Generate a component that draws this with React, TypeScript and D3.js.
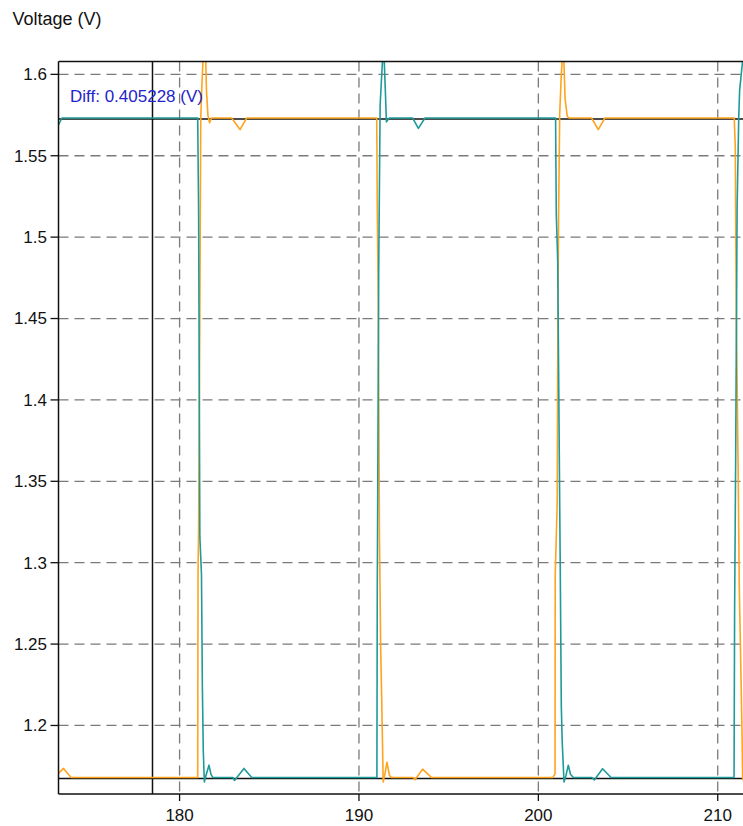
import React from "react";
import * as d3 from "d3";

const xTicks = [180, 190, 200, 210];
const yTicks = [1.2, 1.25, 1.3, 1.35, 1.4, 1.45, 1.5, 1.55, 1.6];
const yTickLabels = ["1.2", "1.25", "1.3", "1.35", "1.4", "1.45", "1.5", "1.55", "1.6"];
const cursorLevels = [1.5726, 1.167372];
const cursorTime = [178.49];
const diffLabel = "Diff: 0.405228 (V)";
const yTitle = "Voltage (V)";

const orangeTrace: [number, number][] = [
  [173.22, 1.1703], [173.53, 1.1736], [173.95, 1.168],
  [181.01, 1.168], [181.03, 1.2956], [181.06, 1.32], [181.13, 1.455], [181.18, 1.5732],
  [181.25, 1.595], [181.33, 1.615], [181.42, 1.625], [181.5, 1.59], [181.58, 1.5748],
  [181.67, 1.5703], [181.78, 1.5732],
  [182.9, 1.5732], [183.37, 1.5661], [183.74, 1.5732],
  [190.99, 1.5732], [191.02, 1.519], [191.08, 1.459], [191.14, 1.319], [191.21, 1.248],
  [191.27, 1.215], [191.35, 1.1653], [191.45, 1.1703], [191.56, 1.1774], [191.7, 1.1693],
  [191.82, 1.168],
  [193.04, 1.168], [193.12, 1.1666], [193.55, 1.1732], [194.05, 1.168],
  [200.8, 1.168], [200.93, 1.1703], [200.94, 1.292], [201.05, 1.336], [201.09, 1.45],
  [201.13, 1.515], [201.19, 1.5753], [201.28, 1.6], [201.39, 1.62], [201.49, 1.585],
  [201.61, 1.5743], [201.71, 1.5732],
  [202.97, 1.5732], [203.34, 1.5661], [203.71, 1.5732],
  [210.92, 1.5732], [210.98, 1.5547], [211.01, 1.4933], [211.05, 1.4387], [211.14, 1.355],
  [211.2, 1.285], [211.28, 1.24], [211.35, 1.199], [211.39, 1.167], [211.5, 1.1658],
];

const tealTrace: [number, number][] = [
  [173.22, 1.5683], [173.44, 1.5732],
  [181.01, 1.5732], [181.06, 1.517], [181.1, 1.403], [181.13, 1.316], [181.22, 1.293],
  [181.27, 1.224], [181.32, 1.185], [181.38, 1.1653], [181.47, 1.1693], [181.64, 1.1756],
  [181.75, 1.17], [181.86, 1.168],
  [182.98, 1.168], [183.06, 1.1662], [183.59, 1.1736], [184.02, 1.168],
  [191.0, 1.168], [191.02, 1.281], [191.1, 1.479], [191.18, 1.581], [191.27, 1.6],
  [191.37, 1.62], [191.47, 1.59], [191.53, 1.5708], [191.69, 1.5732],
  [192.99, 1.5732], [193.31, 1.5668], [193.68, 1.5732],
  [200.96, 1.5732], [201.0, 1.514], [201.08, 1.485], [201.18, 1.35], [201.22, 1.298],
  [201.28, 1.212], [201.33, 1.19], [201.43, 1.1653], [201.54, 1.1693], [201.67, 1.1756],
  [201.79, 1.17], [201.95, 1.168],
  [202.99, 1.168], [203.12, 1.1665], [203.58, 1.1734], [204.05, 1.168],
  [210.91, 1.168], [210.94, 1.269], [211.0, 1.365], [211.08, 1.518], [211.17, 1.5732],
  [211.22, 1.59], [211.31, 1.6], [211.42, 1.612],
];

const W = 743;
const H = 826;
const left = 58.5;
const right = 745;
const top = 61.5;
const bottom = 794;

const FONT = "'Liberation Sans', Arial, sans-serif";

export default function App() {
  const x = d3.scaleLinear().domain([173.25, 211.52]).range([left, right]);
  const y = d3.scaleLinear().domain([1.1579, 1.6079]).range([bottom, top]);
  const line = d3
    .line<[number, number]>()
    .x((d) => x(d[0]))
    .y((d) => y(d[1]));

  return (
    <svg
      width={W}
      height={H}
      style={{ position: "absolute", left: 0, top: 0, background: "#fff" }}
      fontFamily={FONT}
    >
      <defs>
        <clipPath id="plot">
          <rect x={left} y={top} width={right - left} height={bottom - top} />
        </clipPath>
      </defs>
      <rect x={0} y={0} width={W} height={H} fill="#fff" />
      <text x={12.5} y={25} fontSize={18} fill="#111">
        {yTitle}
      </text>
      {/* grid */}
      <g stroke="#7a7a7a" strokeWidth={1.3} strokeDasharray="10,6">
        {yTicks.map((v) => (
          <line key={"gy" + v} x1={left} x2={right} y1={y(v)} y2={y(v)} />
        ))}
        {xTicks.map((v) => (
          <line key={"gx" + v} x1={x(v)} x2={x(v)} y1={top} y2={bottom} />
        ))}
      </g>
      {/* cursors */}
      <g stroke="#111" strokeWidth={1.5}>
        {cursorLevels.map((v, i) => (
          <line key={"cl" + i} x1={left} x2={right} y1={y(v)} y2={y(v)} />
        ))}
        {cursorTime.map((t, i) => (
          <line key={"ct" + i} x1={x(t)} x2={x(t)} y1={top} y2={bottom} />
        ))}
      </g>
      {/* traces */}
      <g clipPath="url(#plot)" fill="none" strokeWidth={1.6} strokeLinejoin="round">
        <path d={line(orangeTrace) || ""} stroke="#ffa41c" />
        <path d={line(tealTrace) || ""} stroke="#1f9a9a" />
      </g>
      {/* frame */}
      <g stroke="#111" strokeWidth={1.5} fill="none">
        <line x1={left} x2={right} y1={top} y2={top} />
        <line x1={left} x2={right} y1={bottom} y2={bottom} />
        <line x1={left} x2={left} y1={top} y2={bottom} />
      </g>
      {/* axis ticks */}
      <g stroke="#111" strokeWidth={1.3}>
        {yTicks.map((v) => (
          <line key={"ty" + v} x1={left - 8} x2={left} y1={y(v)} y2={y(v)} />
        ))}
        {xTicks.map((v) => (
          <line key={"tx" + v} x1={x(v)} x2={x(v)} y1={bottom} y2={bottom + 7} />
        ))}
      </g>
      <g fontSize={17} fill="#111">
        {yTicks.map((v, i) => (
          <text key={"ly" + v} x={47} y={y(v)} dy="0.35em" textAnchor="end">
            {yTickLabels[i]}
          </text>
        ))}
        {xTicks.map((v) => (
          <text key={"lx" + v} x={x(v)} y={821} textAnchor="middle">
            {String(v)}
          </text>
        ))}
      </g>
      <text x={70} y={102} fontSize={17} fill="#2424cc">
        {diffLabel}
      </text>
    </svg>
  );
}
